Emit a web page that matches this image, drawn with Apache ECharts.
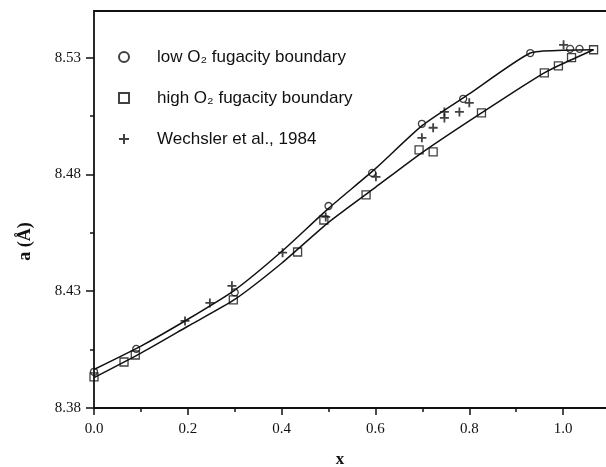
<!DOCTYPE html>
<html>
<head>
<meta charset="utf-8">
<script src="https://cdn.jsdelivr.net/npm/echarts@6/dist/echarts.min.js"></script>
<style>
  html, body { margin: 0; background: #fff; }
  #main { width: 606px; height: 467px; }
</style>
</head>
<body>
<div id="main"></div>
<script>
// measured points
var lowX  = [0.0, 0.09, 0.30, 0.50, 0.593, 0.699, 0.787, 0.930, 1.015, 1.035];
var lowY  = [8.3955, 8.4053, 8.4295, 8.4665, 8.4807, 8.5017, 8.5124, 8.5320, 8.5338, 8.5338];

var highX = [0.0, 0.064, 0.088, 0.297, 0.434, 0.490, 0.580, 0.693, 0.723, 0.826, 0.960, 0.990, 1.018, 1.065];
var highY = [8.3933, 8.3997, 8.4027, 8.4263, 8.4468, 8.4605, 8.4713, 8.4905, 8.4897, 8.5064, 8.5235, 8.5265, 8.5300, 8.5334];

var wechX = [0.194, 0.247, 0.294, 0.402, 0.494, 0.601, 0.699, 0.723, 0.747, 0.747, 0.779, 0.800, 1.001];
var wechY = [8.4173, 8.4250, 8.4323, 8.4465, 8.4618, 8.4790, 8.4957, 8.5000, 8.5068, 8.5042, 8.5068, 8.5107, 8.5355];

// fitted curves
var upperCurveX = [0.0, 0.1, 0.2, 0.3, 0.4, 0.5, 0.6, 0.7, 0.8, 0.93, 1.0, 1.065];
var upperCurveY = [8.3965, 8.4065, 8.418, 8.4305, 8.447, 8.4655, 8.4825, 8.501, 8.5145, 8.532, 8.5332, 8.5334];
var lowerCurveX = [0.0, 0.1, 0.2, 0.3, 0.4, 0.5, 0.6, 0.7, 0.8, 0.9, 0.96, 1.0, 1.065];
var lowerCurveY = [8.393, 8.4035, 8.415, 8.4265, 8.442, 8.4595, 8.4745, 8.4895, 8.503, 8.516, 8.5235, 8.5275, 8.5334];

var xTicks = [0.0, 0.2, 0.4, 0.6, 0.8, 1.0];
var yTicks = [8.38, 8.43, 8.48, 8.53];

function zip(xs, ys) {
    return xs.map(function (v, i) { return [v, ys[i]]; });
}

var ink = '#111';
var plusPath = 'path://M4,0H6V4H10V6H6V10H4V6H0V4H4Z';

var myChart = echarts.init(document.getElementById('main'));
var option = {
    backgroundColor: '#fff',
    animation: false,
    grid: { left: 94, right: -4, top: 11, bottom: 59, outerBoundsMode: 'none', containLabel: false },
    legend: {
        data: ['low O₂ fugacity boundary', 'high O₂ fugacity boundary', 'Wechsler et al., 1984'],
        orient: 'vertical',
        left: 113,
        top: 42,
        itemWidth: 10,
        itemHeight: 10,
        itemGap: 21,
        textStyle: {
            fontFamily: 'Liberation Sans, Arial, sans-serif',
            fontSize: 17,
            color: ink,
            lineHeight: 20,
            padding: [0, 0, 0, 23]
        }
    },
    xAxis: [{
        type: 'value',
        min: 0,
        max: 1.1,
        interval: 0.2,
        name: 'x',
        nameLocation: 'middle',
        nameGap: 43,
        nameTextStyle: {
            fontFamily: 'Liberation Serif, Times New Roman, serif',
            fontWeight: 'bold', fontSize: 17, color: ink,
            padding: [0, 24, 0, 0]
        },
        axisLine: { lineStyle: { color: ink, width: 1.8 } },
        axisTick: { inside: false, length: 7, lineStyle: { color: ink, width: 1.5 } },
        minorTick: { show: true, splitNumber: 2, length: 4, lineStyle: { color: ink, width: 1.5 } },
        splitLine: { show: false },
        axisLabel: {
            margin: 14,
            showMaxLabel: false,
            fontFamily: 'Liberation Serif, Times New Roman, serif',
            fontSize: 15, color: ink,
            formatter: function (v) {
                return xTicks.indexOf(Math.round(v * 10) / 10) >= 0 ? v.toFixed(1) : '';
            }
        }
    }, {
        type: 'value',
        position: 'top',
        min: 0,
        max: 1.1,
        axisLine: { show: true, onZero: false, lineStyle: { color: ink, width: 1.8 } },
        axisTick: { show: false },
        axisLabel: { show: false },
        splitLine: { show: false }
    }],
    yAxis: {
        type: 'value',
        min: 8.38,
        max: 8.55,
        interval: 0.05,
        name: 'a (Å)',
        nameLocation: 'middle',
        nameGap: 60,
        nameTextStyle: {
            fontFamily: 'Liberation Serif, Times New Roman, serif',
            fontWeight: 'bold', fontSize: 18, color: ink,
            padding: [0, 64, 0, 0]
        },
        axisLine: { show: true, lineStyle: { color: ink, width: 1.8 } },
        axisTick: { length: 8, customValues: yTicks, lineStyle: { color: ink, width: 1.5 } },
        minorTick: { show: true, splitNumber: 2, length: 4, lineStyle: { color: ink, width: 1.5 } },
        splitLine: { show: false },
        axisLabel: {
            margin: 13,
            showMaxLabel: false,
            fontFamily: 'Liberation Serif, Times New Roman, serif',
            fontSize: 15, color: ink,
            formatter: function (v) {
                var r = Math.round(v * 100) / 100;
                return yTicks.indexOf(r) >= 0 ? r.toFixed(2) : '';
            }
        }
    },
    series: [{
        name: 'upper curve',
        type: 'line',
        data: zip(upperCurveX, upperCurveY),
        showSymbol: false,
        smooth: 0.2,
        lineStyle: { color: ink, width: 1.5 },
        z: 1
    }, {
        name: 'lower curve',
        type: 'line',
        data: zip(lowerCurveX, lowerCurveY),
        showSymbol: false,
        smooth: 0.2,
        lineStyle: { color: ink, width: 1.5 },
        z: 1
    }, {
        name: 'low O₂ fugacity boundary',
        type: 'scatter',
        data: zip(lowX, lowY),
        symbol: 'circle',
        symbolSize: 7,
        itemStyle: { color: 'rgba(255,255,255,0)', borderColor: ink, borderWidth: 1.3 },
        z: 3
    }, {
        name: 'high O₂ fugacity boundary',
        type: 'scatter',
        data: zip(highX, highY),
        symbol: 'rect',
        symbolSize: 8,
        itemStyle: { color: 'rgba(255,255,255,0)', borderColor: ink, borderWidth: 1.3 },
        z: 3
    }, {
        name: 'Wechsler et al., 1984',
        type: 'scatter',
        data: zip(wechX, wechY),
        symbol: plusPath,
        symbolSize: 9,
        itemStyle: { color: ink },
        z: 3
    }]
};
myChart.setOption(option);
</script>
</body>
</html>
